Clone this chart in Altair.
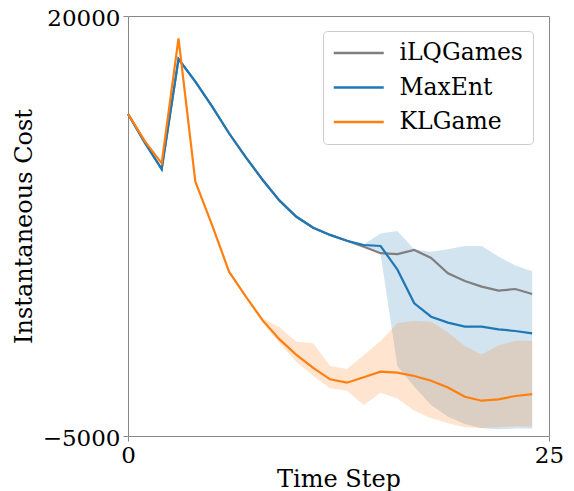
import altair as alt
import pandas as pd

steps = list(range(25))
methods = ["iLQGames", "MaxEnt", "KLGame"]
colors = ["#7f7f7f", "#1f77b4", "#ff7f0e"]

ilq = [14170, 12500, 10880, 17440, 16090, 14600, 13020, 11590, 10240, 9010,
       8050, 7400, 6970, 6620, 6270, 5880, 5830, 6070, 5600, 4690,
       4230, 3890, 3650, 3750, 3450]
maxent = [14170, 12450, 10880, 17440, 16090, 14600, 13020, 11590, 10240, 9010,
          8050, 7400, 6970, 6620, 6370, 6310, 4900, 2900, 2100, 1750,
          1510, 1510, 1350, 1250, 1110]
klgame = [14170, 12550, 11230, 18670, 10140, 7540, 4780, 3290, 1880, 750,
          -170, -950, -1625, -1827, -1500, -1172, -1232, -1429, -1708, -2110,
          -2661, -2899, -2816, -2619, -2510]

maxent_lo = [14170, 12450, 10880, 17440, 16090, 14600, 13020, 11590, 10240, 9010,
             8050, 7400, 6970, 6620, 6300, 5800, -850, -2065, -3155, -3850,
             -4290, -4540, -4600, -4560, -4560]
maxent_hi = [14170, 12450, 10880, 17440, 16090, 14600, 13020, 11590, 10240, 9010,
             8050, 7400, 6970, 6620, 6400, 7050, 7200, 6100, 5970, 6110,
             6310, 6310, 5680, 5150, 4810]
klgame_lo = [14170, 12550, 11230, 18670, 10140, 7540, 4780, 3230, 1708, 518,
             -577, -1429, -2161, -2304, -3155, -2423, -2770, -3500, -3946, -4244,
             -4480, -4520, -4470, -4420, -4440]
klgame_hi = [14170, 12550, 11230, 18670, 10140, 7540, 4780, 3350, 2006, 1470,
             613, 518, -833, -1012, -200, 650, 1720, 1845, 1800, 1160,
             360, -150, 390, 673, 673]

rows = []
for m, vals in zip(methods, [ilq, maxent, klgame]):
    for s, v in zip(steps, vals):
        rows.append({"step": s, "cost": v, "method": m})
lines_df = pd.DataFrame(rows)

band_rows = []
for m, c, lo, hi in [("MaxEnt", "#1f77b4", maxent_lo, maxent_hi),
                     ("KLGame", "#ff7f0e", klgame_lo, klgame_hi)]:
    for s, a, b in zip(steps, lo, hi):
        band_rows.append({"step": s, "lo": a, "hi": b, "method": m, "col": c})
band_df = pd.DataFrame(band_rows)

FONT = "DejaVu Serif"

xenc = alt.X("step:Q", scale=alt.Scale(domain=[0, 25], nice=False),
             axis=alt.Axis(values=[0, 25], title="Time Step", labelFlush=False,
                           labelPadding=3, titlePadding=0))
yscale = alt.Scale(domain=[-5000, 20000], nice=False, zero=False)
yaxis = alt.Axis(values=[-5000, 20000], format="d", title="Instantaneous Cost",
                 labelPadding=3, titlePadding=6, labelOffset=2)

bands = alt.Chart(band_df).mark_area(opacity=0.2).encode(
    x=xenc,
    y=alt.Y("lo:Q", scale=yscale, axis=yaxis),
    y2="hi:Q",
    fill=alt.Fill("col:N", scale=None),
    detail="method:N",
)

color = alt.Color(
    "method:N",
    scale=alt.Scale(domain=methods, range=colors),
    sort=methods,
    legend=alt.Legend(
        title=None, orient="none", legendX=195, legendY=15,
        symbolType="M-1.1,0H3.9", symbolSize=400, symbolStrokeWidth=2.5,
        labelFont=FONT, labelFontSize=23.5, labelColor="black", labelOffset=43,
        padding=10, rowPadding=10.5, clipHeight=24,
        strokeColor="#cccccc", fillColor="white", cornerRadius=4,
    ),
)

line_layers = []
for m in methods:
    line_layers.append(
        alt.Chart(lines_df).transform_filter(alt.datum.method == m)
        .mark_line(strokeWidth=2.2)
        .encode(x=xenc, y=alt.Y("cost:Q", scale=yscale, axis=yaxis), color=color)
    )

chart = alt.layer(bands, *line_layers).properties(
    width=421, height=420,
    autosize=alt.AutoSizeParams(type="none"),
    padding={"left": 120, "top": 8, "right": 17, "bottom": 58},
).configure_view(
    stroke="#888888", strokeWidth=1
).configure_axis(
    labelFont=FONT, labelFontSize=23, labelColor="black",
    titleFont=FONT, titleFontSize=24, titleFontWeight="normal", titleColor="black",
    grid=False, domain=False, tickColor="#888888", tickSize=5, tickWidth=1,
)

chart.save("out.html", embed_options={"renderer": "svg", "actions": False})
